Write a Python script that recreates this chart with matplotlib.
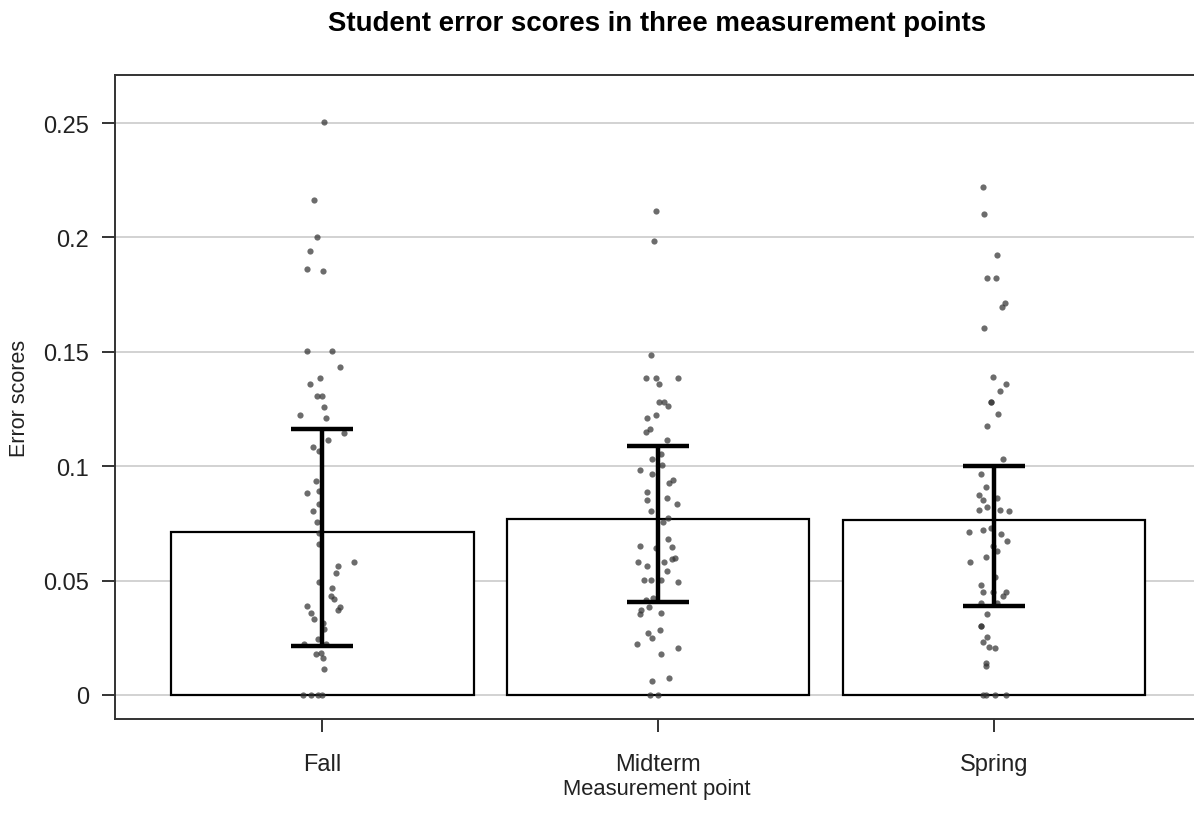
import matplotlib
matplotlib.use("Agg")
import matplotlib.pyplot as plt
import numpy as np

# ---------------- data ----------------
categories = ["Fall", "Midterm", "Spring"]
means = [0.0712, 0.0769, 0.0765]
ci_lower = [0.0214, 0.0406, 0.0389]
ci_upper = [0.1163, 0.1088, 0.1001]

fall_scores = [0.2503, 0.2165, 0.2003, 0.1942, 0.1862, 0.1855, 0.1502, 0.1502, 0.1435, 0.1385,
               0.1361, 0.1306, 0.1306, 0.1257, 0.1225, 0.1212, 0.1144, 0.1113, 0.1083, 0.1068,
               0.0935, 0.0884, 0.0890, 0.0835, 0.0804, 0.0755, 0.0707, 0.0661, 0.0581, 0.0564,
               0.0532, 0.0495, 0.0469, 0.0433, 0.0420, 0.0390, 0.0385, 0.0373, 0.0360, 0.0333,
               0.0315, 0.0290, 0.0243, 0.0224, 0.0224, 0.0179, 0.0184, 0.0160, 0.0112, 0.0,
               0.0, 0.0, 0.0]
fall_jitter = [0.005, -0.024, -0.015, -0.037, -0.045, 0.001, -0.045, 0.030, 0.051, -0.007,
               -0.037, -0.016, -0.002, 0.005, -0.067, 0.010, 0.064, 0.018, -0.029, -0.010,
               -0.020, -0.045, -0.011, -0.011, -0.029, -0.016, -0.010, -0.011, 0.094, 0.047,
               0.039, -0.010, 0.030, 0.025, 0.035, -0.046, 0.051, 0.045, -0.034, -0.025,
               0.002, 0.005, -0.014, -0.054, 0.010, -0.019, -0.005, 0.001, 0.005, -0.059,
               -0.035, -0.013, -0.002]

midterm_scores = [0.2115, 0.1986, 0.1486, 0.1386, 0.1386, 0.1386, 0.1361, 0.1282, 0.1282, 0.1262,
                  0.1212, 0.1224, 0.1151, 0.1163, 0.1113, 0.1052, 0.1031, 0.1005, 0.0983, 0.0966,
                  0.0941, 0.0925, 0.0886, 0.0852, 0.0860, 0.0835, 0.0804, 0.0774, 0.0755, 0.0650,
                  0.0682, 0.0648, 0.0644, 0.0600, 0.0594, 0.0581, 0.0562, 0.0581, 0.0543, 0.0501,
                  0.0501, 0.0501, 0.0495, 0.0415, 0.0423, 0.0373, 0.0385, 0.0353, 0.0358, 0.0284,
                  0.0272, 0.0250, 0.0224, 0.0204, 0.0179, 0.0063, 0.0074, 0.0, 0.0]
midterm_jitter = [-0.008, -0.013, -0.021, -0.036, -0.008, 0.059, 0.001, 0.001, 0.016, 0.029,
                  -0.033, -0.008, -0.037, -0.025, 0.025, 0.007, -0.018, 0.010, -0.055, -0.018,
                  0.044, 0.033, -0.033, -0.034, 0.025, 0.055, -0.021, 0.029, 0.014, -0.054,
                  0.029, 0.041, -0.007, 0.051, 0.042, -0.059, -0.034, 0.016, 0.025, -0.042,
                  -0.021, 0.007, 0.060, -0.037, -0.015, -0.050, -0.028, -0.055, 0.007, 0.004,
                  -0.030, -0.020, -0.064, 0.059, 0.007, -0.018, 0.033, -0.025, -0.002]

spring_scores = [0.2220, 0.2104, 0.1923, 0.1824, 0.1824, 0.1715, 0.1694, 0.1603, 0.1391, 0.1361,
                 0.1330, 0.1281, 0.1281, 0.1229, 0.1176, 0.1033, 0.0967, 0.0908, 0.0873, 0.0854,
                 0.0860, 0.0822, 0.0810, 0.0810, 0.0804, 0.0711, 0.0723, 0.0730, 0.0704, 0.0674,
                 0.0650, 0.0629, 0.0602, 0.0581, 0.0516, 0.0482, 0.0451, 0.0451, 0.0451, 0.0434,
                 0.0403, 0.0403, 0.0353, 0.0302, 0.0302, 0.0253, 0.0230, 0.0210, 0.0204, 0.0140,
                 0.0128, 0.0, 0.0, 0.0, 0.0]
spring_jitter = [-0.034, -0.030, 0.009, -0.021, 0.005, 0.031, 0.025, -0.030, -0.004, 0.035,
                 0.017, -0.009, -0.009, 0.013, -0.021, 0.026, -0.038, -0.025, -0.046, -0.034,
                 0.010, -0.021, -0.046, 0.017, 0.043, -0.075, -0.034, -0.009, 0.022, 0.039,
                 -0.004, 0.010, -0.025, -0.071, 0.004, -0.038, -0.034, -0.004, 0.034, 0.026,
                 -0.038, 0.010, -0.021, -0.038, -0.038, -0.021, -0.034, -0.015, 0.004, -0.025,
                 -0.025, -0.034, -0.025, 0.004, 0.034]

yticks = [0, 0.05, 0.1, 0.15, 0.2, 0.25]
ytick_labels = ["0", "0.05", "0.1", "0.15", "0.2", "0.25"]

# ---------------- plot ----------------
plt.rcParams["font.family"] = ["Liberation Sans", "DejaVu Sans"]

fig = plt.figure(figsize=(11.94, 8.29), dpi=100)
ax = fig.add_axes([0.0963, 0.1315, 0.9100, 0.7768])

x = np.arange(len(categories))
ax.bar(x, means, width=0.9, color="white", edgecolor="black", linewidth=1.6, zorder=2)

for xi, ys, jit in zip(x, [fall_scores, midterm_scores, spring_scores],
                       [fall_jitter, midterm_jitter, spring_jitter]):
    ax.scatter(xi + np.array(jit), ys, s=20, color="#333333", alpha=0.72,
               linewidths=0, zorder=3)

yerr = np.array([np.array(means) - np.array(ci_lower), np.array(ci_upper) - np.array(means)])
ax.errorbar(x, means, yerr=yerr, fmt="none", ecolor="black", elinewidth=3.2,
            capsize=22.5, capthick=3.2, zorder=4)

ax.set_xlim(-0.6176, 2.6176)
ax.set_ylim(-0.0105, 0.2710)
ax.set_xticks(x)
ax.set_xticklabels(categories)
ax.set_yticks(yticks)
ax.set_yticklabels(ytick_labels)

ax.yaxis.grid(True, color="#c6c6c6", linewidth=1.1, zorder=0)
ax.set_axisbelow(True)

for side in ["left", "top", "bottom"]:
    ax.spines[side].set_color("#333333")
    ax.spines[side].set_linewidth(1.4)
ax.spines["right"].set_visible(False)

ax.tick_params(axis="both", colors="#333333", length=9.5, width=1.4,
               labelsize=17, labelcolor="#222222")
ax.tick_params(axis="y", pad=9)
ax.tick_params(axis="x", pad=15)

# axis labels and title placed in figure coordinates
fig.text(657 / 1194, 1 - 790 / 829, "Measurement point", fontsize=15.8,
         color="#222222", ha="center", va="center")
fig.text(20 / 1194, 1 - 398 / 829, "Error scores", fontsize=15.5, rotation=90,
         color="#222222", ha="center", va="center")
fig.text(657 / 1194, 1 - 24 / 829, "Student error scores in three measurement points",
         fontsize=19.9, fontweight="bold", ha="center", va="center")

fig.savefig("out.png", dpi=100)
